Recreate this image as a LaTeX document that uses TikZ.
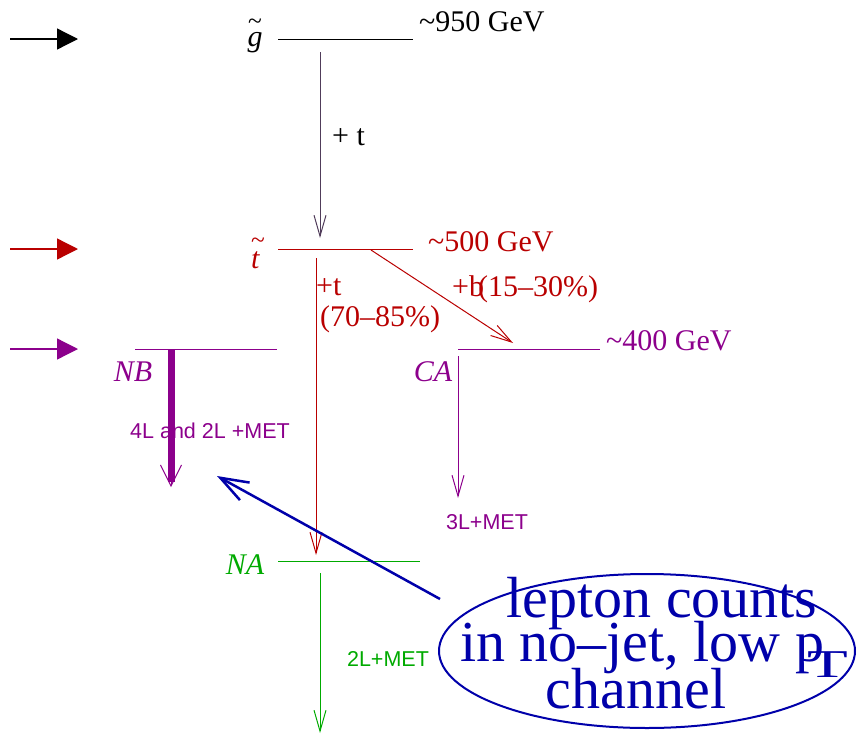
\documentclass[tikz,border=0pt]{standalone}
\usepackage{graphicx}
\usepackage{fontspec}
\setmainfont{Liberation Serif}
\setsansfont{Liberation Sans}
\usetikzlibrary{arrows.meta,shapes.geometric}
\definecolor{cglu}{RGB}{80,60,90}
\definecolor{cred}{RGB}{185,0,0}
\definecolor{cpur}{RGB}{140,0,140}
\definecolor{cgrn}{RGB}{0,170,0}
\definecolor{cblu}{RGB}{0,0,170}
\newcommand{\tildeover}[2]{\ooalign{\textit{#1}\cr\hfil\raisebox{#2}{\scalebox{0.85}{\textasciitilde}}\hfil\cr}}
\begin{document}
\begin{tikzpicture}[x=1pt,y=-1pt,
  inarrow/.style={line width=1.3pt,-{Triangle[length=21pt,width=21pt]}},
  levelline/.style={line width=1pt},
  decay/.style={line width=1pt,-{Straight Barb[length=21pt,width=12pt,line width=1pt]}},
  ser/.style={font=\fontsize{30}{34}\selectfont,inner sep=0pt},
  sans/.style={font=\sffamily\fontsize{21.5}{25}\selectfont,inner sep=0pt},
  big/.style={font=\fontsize{58}{58}\selectfont,inner sep=0pt,text=cblu,text height=36pt,text depth=6pt},
]
\useasboundingbox (0,0) rectangle (857,734);

% incoming arrows
\coordinate (ia1) at (10,39);  \coordinate (ib1) at (78,39);
\coordinate (ia2) at (10,249); \coordinate (ib2) at (78,249);
\coordinate (ia3) at (10,349); \coordinate (ib3) at (78,349);
\draw[inarrow,black] (ia1) -- (ib1);
\draw[inarrow,cred] (ia2) -- (ib2);
\draw[inarrow,cpur] (ia3) -- (ib3);

% level lines
\coordinate (gL) at (278,39);  \coordinate (gR) at (413,39);
\coordinate (tL) at (278,249); \coordinate (tR) at (413,249);
\coordinate (nbL) at (135,349); \coordinate (nbR) at (277,349);
\coordinate (caL) at (458,349); \coordinate (caR) at (600,349);
\coordinate (naL) at (278,561); \coordinate (naR) at (420,561);
\draw[levelline,black] (gL) -- (gR);
\draw[levelline,cred] (tL) -- (tR);
\draw[levelline,cpur] (nbL) -- (nbR);
\draw[levelline,cpur] (caL) -- (caR);
\draw[levelline,cgrn] (naL) -- (naR);

% decay arrows
\coordinate (d1a) at (320,52);  \coordinate (d1b) at (320,238);
\coordinate (d2a) at (316,258); \coordinate (d2b) at (316,555);
\coordinate (d3a) at (371,250); \coordinate (d3b) at (513,343);
\coordinate (d4a) at (171,350); \coordinate (d4m) at (171,482); \coordinate (d4b) at (171,487);
\coordinate (d4h) at (171,466);
\coordinate (d5a) at (458,356); \coordinate (d5b) at (458,498);
\coordinate (d6a) at (320,573); \coordinate (d6b) at (320,733);
\draw[decay,cglu] (d1a) -- (d1b);
\draw[decay,cred] (d2a) -- (d2b);
\draw[decay,cred] (d3a) -- (d3b);
\draw[cpur,line width=7pt] (d4a) -- (d4m);
\draw[cpur,line width=1pt,-{Straight Barb[length=21pt,width=21pt,line width=1pt]}] (d4h) -- (d4b);
\draw[decay,cpur] (d5a) -- (d5b);
\draw[decay,cgrn] (d6a) -- (d6b);

% particle labels
\node[ser,anchor=base] (glab) at (255,46) {\tildeover{g}{17pt}};
\node[ser,anchor=base,text=cred] (tlab) at (258,268) {\tildeover{t}{20pt}};
\node[ser,anchor=base,text=cpur] (nblab) at (133,381) {\textit{NB}};
\node[ser,anchor=base,text=cpur] (calab) at (433,381) {\textit{CA}};
\node[ser,anchor=base,text=cgrn] (nalab) at (245,574) {\textit{NA}};

% mass labels
\node[ser,anchor=base west] (e950) at (419,31) {\textasciitilde950 GeV};
\node[ser,anchor=base west,text=cred] (e500) at (428,251) {\textasciitilde500 GeV};
\node[ser,anchor=base west,text=cpur] (e400) at (606,350) {\textasciitilde400 GeV};

% decay labels
\node[ser,anchor=base west] (pt1) at (332,145) {+ t};
\node[ser,anchor=base west,text=cred] (pt2) at (316,295) {+t};
\node[ser,anchor=base west,text=cred] (br1) at (320,326) {(70\textendash85\%)};
\node[ser,anchor=base west,text=cred] (pb) at (452,296) {+b};
\node[ser,anchor=base west,text=cred] (br2) at (478,296) {(15\textendash30\%)};

% signature labels
\node[sans,text=cpur] (s1) at (210,431) {4L and 2L +MET};
\node[sans,text=cpur] (s2) at (487,522) {3L+MET};
\node[sans,text=cgrn] (s3) at (388,659) {2L+MET};

% ellipse callout
\node[draw=cblu,line width=2pt,ellipse,minimum width=416pt,minimum height=154pt,inner sep=0pt] (ell) at (647,651) {};
\node[big,anchor=base] (l1) at (662,617) {lepton counts};
\node[big,anchor=base west] (l2) at (460,661) {in no\textendash jet, low p};
\node[big,anchor=base,text height=26pt,text depth=0pt] (l2t) at (828,677) {\scalebox{1.15}[0.68]{T}};
\node[big,anchor=base] (l3) at (636,708) {channel};

\coordinate (bs) at (440,599);
\coordinate (bt) at (217,476);
\draw[cblu,line width=2.5pt,-{Straight Barb[length=28pt,width=20pt]}] (bs) -- (bt);
\end{tikzpicture}
\end{document}
